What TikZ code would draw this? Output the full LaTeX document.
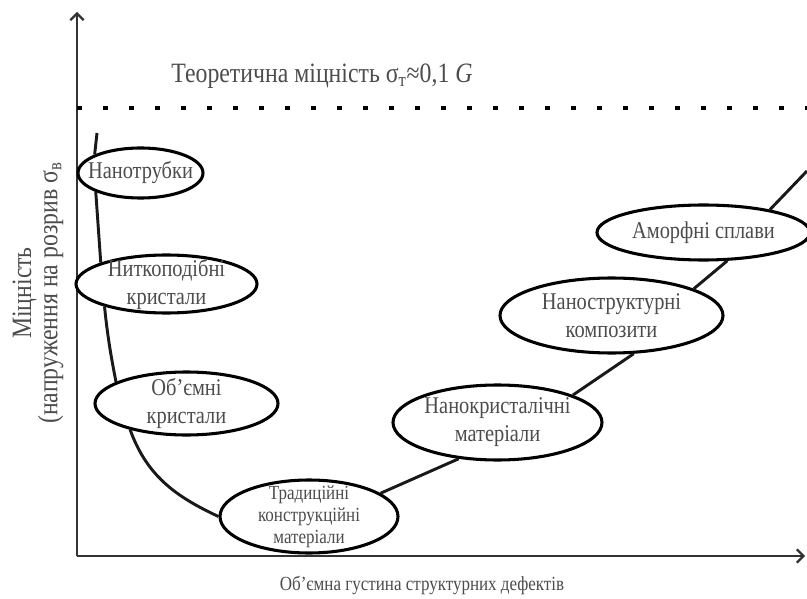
\documentclass[tikz,border=0pt]{standalone}
\usepackage{fontspec}
\setmainfont{Liberation Serif}[FakeStretch=0.85]
\usetikzlibrary{arrows.meta,shapes.geometric}

\begin{document}
\begin{tikzpicture}[
    x=0.75pt, y=-0.75pt,
    oval/.style={ellipse, draw, line width=2.3pt, fill=white, inner xsep=-30pt, inner ysep=-20pt, align=center, text=black!70, font=\fontsize{18}{21}\selectfont},
    curve/.style={line width=2.2pt, black!90},
    axis/.style={line width=1.6pt, black!80, -{Straight Barb[length=5pt, width=10pt]}},
    theory/.style={line width=3.5pt, dash pattern=on 3.5pt off 16pt},
    lbl/.style={text=black!70, align=center}
]
\useasboundingbox (0,0) rectangle (807,599);
\coordinate (origin) at (77,556);
\coordinate (ytip) at (77,12);
\coordinate (xtip) at (805,556);
\draw[axis] (origin) -- (ytip);
\draw[axis] (origin) -- (xtip);
\coordinate (theoL) at (77,108);
\coordinate (theoR) at (807,108);
\draw[theory] (theoL) -- (theoR);
\node[lbl, font=\fontsize{21}{24}\selectfont] (theo) at (322,76) {Теоретична міцність σ\textsubscript{т}≈0,1 \textit{G}};
\node[lbl, rotate=90, font=\fontsize{21}{18}\selectfont] (ylab) at (38,293) {Міцність\\(напруження на розрив σ\textsubscript{в}};
\node[lbl, font=\fontsize{15}{18}\selectfont] (xlab) at (422,585) {Об’ємна густина структурних дефектів};

\node[oval, minimum width=93.75pt, minimum height=37.5pt] (tubes) at (140.5,173) {Нанотрубки};
\node[oval, minimum width=135.75pt, minimum height=43.5pt] (whiskers) at (166.5,284) {Ниткоподібні\\кристали};
\node[oval, minimum width=137.25pt, minimum height=47.25pt] (bulk) at (186.5,403.5) {Об’ємні\\кристали};
\node[oval, minimum width=133.5pt, minimum height=54.75pt, font=\fontsize{15}{16.5}\selectfont] (trad) at (309,516.5) {Традиційні\\конструкційні\\матеріали};
\node[oval, minimum width=156.75pt, minimum height=56.25pt] (nanocr) at (497.5,422.5) {Нанокристалічні\\матеріали};
\node[oval, minimum width=167.25pt, minimum height=56.25pt] (nanocomp) at (611.5,315.5) {Наноструктурні\\композити};
\node[oval, minimum width=159.75pt, minimum height=41.25pt] (amorph) at (703.5,232.5) {Аморфні сплави};

\coordinate (cstart) at (97,133);
\coordinate (cend) at (807,171);
\draw[curve] (cstart) -- (tubes.158);
\draw[curve] (tubes.203) -- (whiskers.162);
\draw[curve] (whiskers.200) to[out=-84,in=101] (bulk.163);
\draw[curve] (bulk.205) to[out=-70,in=155] (trad.180);
\draw[curve] (trad.18) -- (nanocr.223);
\draw[curve] (nanocr.20) -- (nanocomp.300);
\draw[curve] (nanocomp.18) -- (amorph.310);
\draw[curve] (amorph.19) -- (cend);
\end{tikzpicture}
\end{document}
